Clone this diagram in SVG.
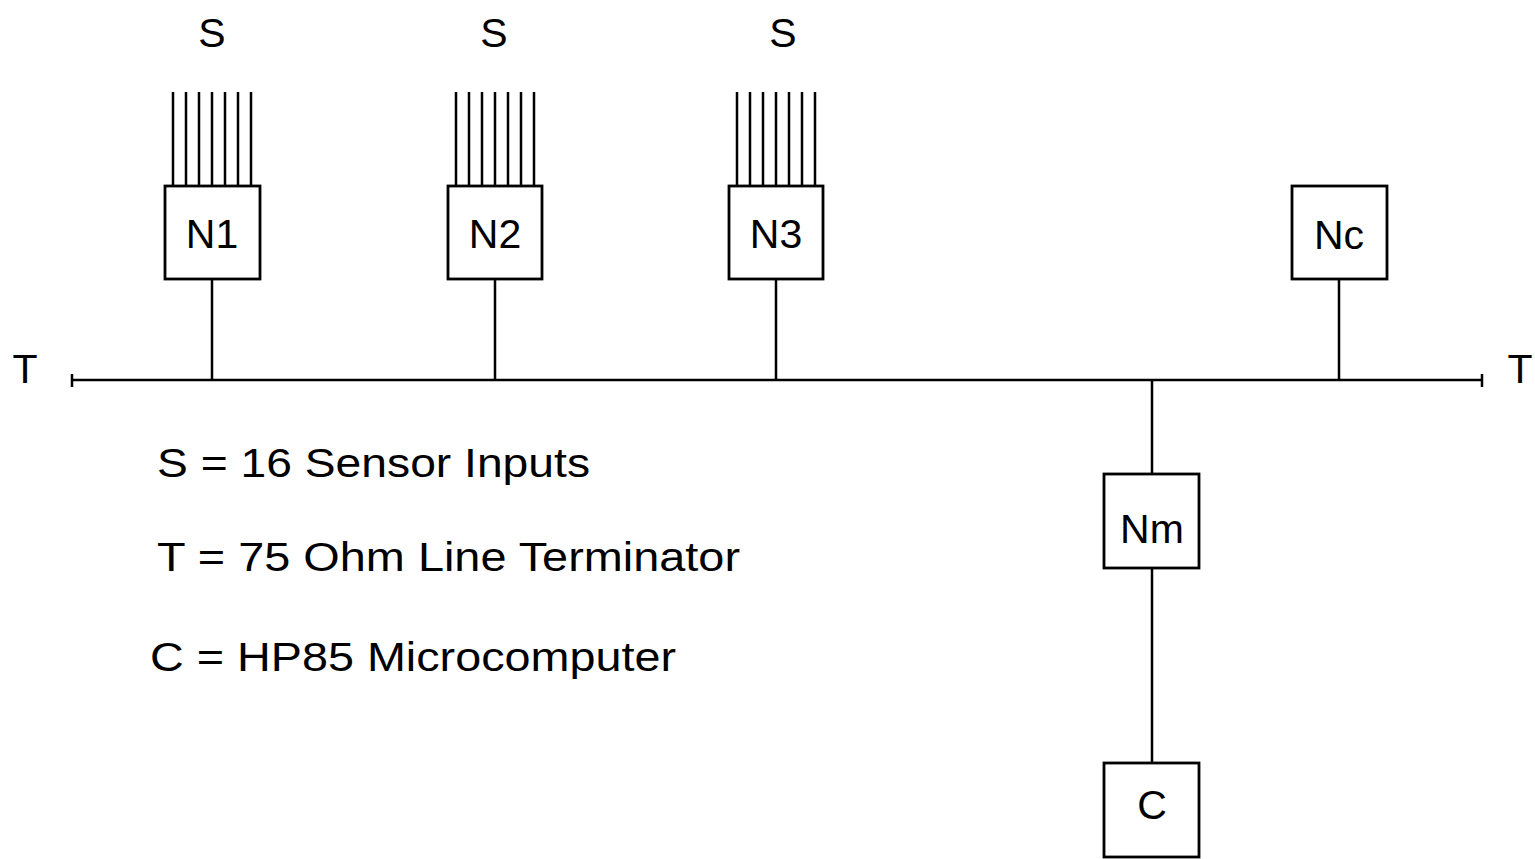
<svg xmlns="http://www.w3.org/2000/svg" width="1535" height="859" viewBox="0 0 1535 859">
<style>
.ln{stroke:#000;stroke-width:2.5;fill:none}
.box{stroke:#000;stroke-width:2.8;fill:#fff}
.t{font-family:"Liberation Sans",Arial,sans-serif;fill:#000;font-size:41px}
.c{text-anchor:middle}
</style>
<defs>
<g id="fan">
<path class="ln" d="M-39,92V186M-26,92V186M-13,92V186M0,92V186M13,92V186M26,92V186M39,92V186"/>
</g>
</defs>
<rect width="1535" height="859" fill="#fff"/>
<g id="connectors">
<path class="ln" d="M72,380H1482"/>
<path class="ln" d="M72,374V387M1482,374V387"/>
<path class="ln" d="M212,279V380M495,279V380M776,279V380M1339,279V380"/>
<path class="ln" d="M1152,380V474M1152,568V763"/>
</g>
<g id="S1"><text class="t c" x="212" y="47">S</text><use href="#fan" x="212"/></g>
<g id="S2"><text class="t c" x="494" y="47">S</text><use href="#fan" x="495"/></g>
<g id="S3"><text class="t c" x="783" y="47">S</text><use href="#fan" x="776"/></g>
<g id="N1"><rect class="box" x="165" y="186" width="95" height="93"/><text class="t c" x="212" y="248">N1</text></g>
<g id="N2"><rect class="box" x="448" y="186" width="94" height="93"/><text class="t c" x="495" y="248">N2</text></g>
<g id="N3"><rect class="box" x="729" y="186" width="94" height="93"/><text class="t c" x="776" y="248">N3</text></g>
<g id="Nc"><rect class="box" x="1292" y="186" width="95" height="93"/><text class="t c" x="1339" y="249">Nc</text></g>
<g id="Nm"><rect class="box" x="1104" y="474" width="95" height="94"/><text class="t c" x="1152" y="543">Nm</text></g>
<g id="C"><rect class="box" x="1104" y="763" width="95" height="94"/><text class="t c" x="1152" y="819">C</text></g>
<g id="Tleft"><text class="t c" x="25" y="383">T</text></g>
<g id="Tright"><text class="t c" x="1520" y="383">T</text></g>
<g id="legend">
<text class="t" x="157" y="477" textLength="433" lengthAdjust="spacingAndGlyphs">S = 16 Sensor Inputs</text>
<text class="t" x="157" y="571" textLength="583" lengthAdjust="spacingAndGlyphs">T = 75 Ohm Line Terminator</text>
<text class="t" x="150" y="671" textLength="526" lengthAdjust="spacingAndGlyphs">C = HP85 Microcomputer</text>
</g>
</svg>
